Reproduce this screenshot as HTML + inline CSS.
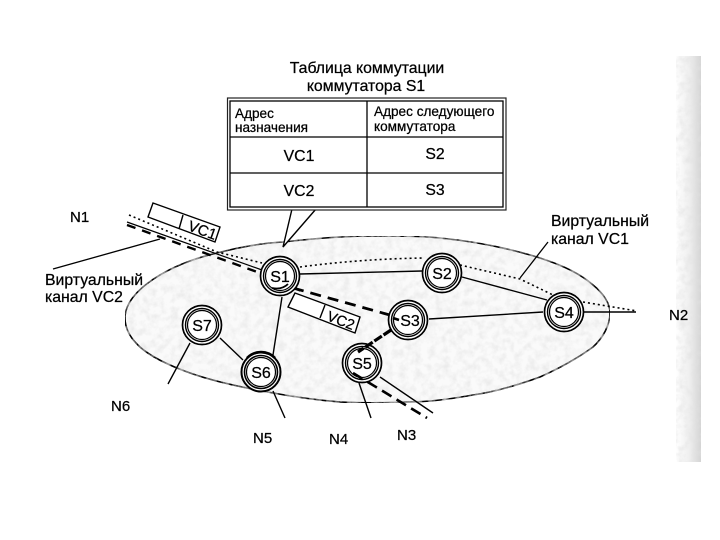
<!DOCTYPE html>
<html><head><meta charset="utf-8"><style>
html,body{margin:0;padding:0;background:#fff}
svg{display:block}
text{font-family:"Liberation Sans",sans-serif;fill:#000;stroke:#000;stroke-width:.25}
</style></head><body>
<svg width="720" height="540" viewBox="0 0 720 540" xmlns="http://www.w3.org/2000/svg">
<defs>
<filter id="n" x="0" y="0" width="100%" height="100%">
<feTurbulence type="fractalNoise" baseFrequency="0.14" numOctaves="3" seed="4" result="t"/>
<feColorMatrix in="t" type="matrix" values="0 0 0 0 0.75 0 0 0 0 0.75 0 0 0 0 0.75 1.3 0 0 0 -0.5"/>
<feComposite in2="SourceGraphic" operator="in" result="s"/>
<feMerge><feMergeNode in="SourceGraphic"/><feMergeNode in="s"/></feMerge>
</filter>
<filter id="b" x="-5%" y="-5%" width="110%" height="110%"><feGaussianBlur stdDeviation="0.3"/></filter>
<linearGradient id="g" x1="0" x2="1" y1="0" y2="0">
<stop offset="0" stop-color="#fff"/><stop offset="0.55" stop-color="#eeeeee"/><stop offset="1" stop-color="#d4d4d4"/>
</linearGradient>
</defs>
<rect width="720" height="540" fill="#fff"/>
<rect x="676" y="56" width="25" height="406" fill="url(#g)" filter="url(#n)"/>
<g filter="url(#b)">
<path d="M125 318 C125 290 170 264 217 253 C240 247 262 243 283 242 C320 238 345 236 373 236 C400 236 420 236 440 238 C480 242 515 250 540 258 C565 266 582 275 593 285 C603 293 610 303 610 313 C610 325 603 338 593 347 C578 358 560 368 540 377 C518 385 495 392 473 395 C450 399 430 402 407 402 C385 403 360 403 340 402 C315 400 295 397 273 393 C245 388 215 382 190 373 C165 364 150 356 140 347 C130 338 125 328 125 318Z" fill="#fafafa" stroke="#000" stroke-width="1.6" filter="url(#n)"/>

<!-- callout -->
<path d="M292 209 L283 247 L316 209" fill="#fff" stroke="#000" stroke-width="1.4"/>
<rect x="227.500" y="98" width="278.500" height="112" fill="#fff" stroke="#222" stroke-width="1.2"/>
<rect x="230" y="101" width="273" height="106" fill="#fff" stroke="#000" stroke-width="1.3"/>
<path d="M230 137H503M230 173H503M367 101V207" stroke="#000" stroke-width="1.3" fill="none"/>

<g stroke="#000" fill="none">
<!-- solid links -->
<path d="M127 222 L262 270" stroke-width="1.2"/>
<path d="M300 274 L422 271M462 277 L547 300M584 312 L636 312M429 319 L543 312M282 297 L273 355M220 338 L243 360M190 343 L168 384M273 391 L285 418M359 383 L371 418M380 377 L433 413M293 288 L300 291" stroke-width="1.4"/>
<!-- leaders -->
<path d="M53 269 L160 239M548 242 L520 278" stroke-width="1.3"/>
<!-- dotted VC1 -->
<path d="M129 215 L217 252 L262 263M300 267 Q360 259 423 258M460 265 L520 279 L553 295M583 302 L637 311" stroke-width="1.6" stroke-dasharray="2 3"/>
<!-- dashed VC2 -->
<path d="M127 225 L260 273" stroke-width="2.4" stroke-dasharray="9 7"/>
<path d="M293 288 L397 317" stroke-width="2.8" stroke-dasharray="11 7"/>
</g>

<!-- VC boxes -->
<g fill="#fff" stroke="#000" stroke-width="1.4">
<path d="M153 203 L220 227 L215 242 L148 217Z"/>
<path d="M295 293 L360 317 L355 333 L288 307Z"/>
</g>
<path d="M183 215 L179 229M325 305 L320 318" stroke="#000" stroke-width="1.4"/>
<text transform="translate(187 230) rotate(20)" font-size="15">VC1</text>
<text transform="translate(326 320) rotate(21)" font-size="14.500">VC2</text>

<!-- nodes -->
<g fill="#fff" stroke="#000">
<g><circle cx="280" cy="276" r="19.500" stroke-width="1.7"/><circle cx="280" cy="276" r="16.500" stroke-width="1.4"/><circle cx="280" cy="276" r="14.500" stroke-width="1.2"/></g>
<g><circle cx="442" cy="273" r="19.500" stroke-width="1.7"/><circle cx="442" cy="273" r="16.500" stroke-width="1.4"/><circle cx="442" cy="273" r="14.500" stroke-width="1.2"/></g>
<g><circle cx="408" cy="320" r="19.500" stroke-width="1.7"/><circle cx="408" cy="320" r="16.500" stroke-width="1.4"/><circle cx="408" cy="320" r="14.500" stroke-width="1.2"/></g>
<g><circle cx="564" cy="312" r="19.500" stroke-width="1.7"/><circle cx="564" cy="312" r="16.500" stroke-width="1.4"/><circle cx="564" cy="312" r="14.500" stroke-width="1.2"/></g>
<g><circle cx="362" cy="363" r="19.500" stroke-width="1.7"/><circle cx="362" cy="363" r="16.500" stroke-width="1.4"/><circle cx="362" cy="363" r="14.500" stroke-width="1.2"/></g>
<g><circle cx="261" cy="372" r="19.500" stroke-width="2"/><circle cx="261" cy="372" r="16.500" stroke-width="1.6"/><circle cx="261" cy="372" r="14.500" stroke-width="1.2"/></g>
<g><circle cx="202" cy="325" r="19.500" stroke-width="1.7"/><circle cx="202" cy="325" r="16.500" stroke-width="1.4"/><circle cx="202" cy="325" r="14.500" stroke-width="1.2"/></g>
</g>
<g stroke="#000" fill="none">
<path d="M247 358 A19.500 19.500 0 0 1 275 358" stroke-width="2.6"/>
<path d="M353 373 L427 418" stroke-width="2.6" stroke-dasharray="11 6"/>
<path d="M391 330 L358 352" stroke-width="3.2" stroke-dasharray="9 2"/>
<path d="M393 318 L399 320" stroke-width="2.6"/>
<path d="M272 288 Q282 290 288 284" stroke-width="1.8"/>
</g>

<g font-size="16" text-anchor="middle">
<text x="280" y="282">S1</text><text x="442" y="279">S2</text><text x="410" y="326">S3</text><text x="564" y="318">S4</text><text x="362" y="369">S5</text><text x="261" y="378">S6</text><text x="202" y="331">S7</text>
</g>

<!-- table text -->
<g font-size="15.800" text-anchor="middle">
<text x="367" y="73">Таблица коммутации</text>
<text x="366" y="91">коммутатора S1</text>
<text x="299" y="161">VC1</text><text x="435" y="159">S2</text>
<text x="299" y="196">VC2</text><text x="435" y="195">S3</text>
</g>
<g font-size="13.600">
<text x="235" y="118">Адрес</text><text x="235" y="132">назначения</text>
<text x="374" y="116">Адрес следующего</text><text x="374" y="131">коммутатора</text>
</g>

<!-- labels -->
<g font-size="15" style="stroke-width:.45">
<text x="70" y="222">N1</text><text x="111" y="411">N6</text><text x="253" y="443">N5</text><text x="329" y="444">N4</text><text x="397" y="440">N3</text><text x="669" y="320">N2</text>
</g>
<g font-size="15.800">
<text x="45" y="285">Виртуальный</text><text x="45" y="302">канал VC2</text>
<text x="551" y="226">Виртуальный</text><text x="551" y="244">канал VC1</text>
</g>
</g>
</svg>
</body></html>
